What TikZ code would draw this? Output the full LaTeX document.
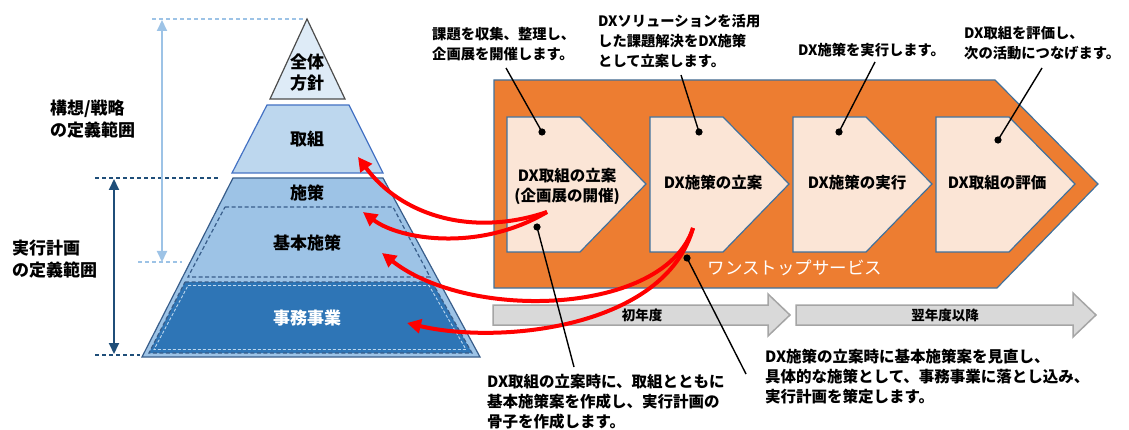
\documentclass[tikz,border=0pt]{standalone}
\usepackage{fontspec}
\setmainfont{Noto Sans CJK JP}
\usetikzlibrary{arrows.meta}
\definecolor{orng}{HTML}{ED7D31}
\definecolor{edgeblue}{HTML}{41719C}
\definecolor{chevfill}{HTML}{FBE5D6}
\definecolor{toptri}{HTML}{DEEBF7}
\definecolor{torilayer}{HTML}{BDD7EE}
\definecolor{torilayeredge}{HTML}{4472C4}
\definecolor{lowlayer}{HTML}{9DC3E6}
\definecolor{lowedge}{HTML}{385D8A}
\definecolor{darklayer}{HTML}{2E75B6}
\definecolor{lightarr}{HTML}{9DC3E6}
\definecolor{darkarr}{HTML}{1F4E79}
\definecolor{grayfill}{HTML}{D9D9D9}
\definecolor{grayedge}{HTML}{A5A5A5}
\begin{document}
\begin{tikzpicture}[x=1pt,y=-1pt,
  chev/.style={fill=chevfill,draw=edgeblue,line width=1.2pt,line join=miter},
  graybar/.style={fill=grayfill,draw=grayedge,line width=1.5pt},
  callout/.style={font=\fontsize{14.3}{19.8}\selectfont\bfseries,align=left,inner sep=0pt,anchor=north west},
  note/.style={font=\fontsize{15.5}{19.8}\selectfont\bfseries,align=left,inner sep=0pt,anchor=north west},
  chevlabel/.style={font=\fontsize{15.5}{20}\selectfont\bfseries,align=center,inner sep=0pt},
  layerlabel/.style={font=\fontsize{17}{21}\selectfont\bfseries,align=center,inner sep=0pt},
  sidelabel/.style={font=\fontsize{17}{22}\selectfont\bfseries,align=left,inner sep=0pt,anchor=west},
  barlabel/.style={font=\fontsize{13.5}{16}\selectfont\bfseries,inner sep=0pt},
  leader/.style={draw=black,line width=1.4pt},
  dotmark/.style={fill=black},
  redarrow/.style={draw=red,line width=4pt,-{Triangle[length=14pt,width=14pt]}},
  guide/.style={dashed,dash pattern=on 4pt off 3pt,line width=1.6pt}
]
\useasboundingbox (0,0) rectangle (1129,430);

% ---------------- pyramid ----------------
\draw[fill=toptri,draw=black!70,line width=1.2pt,line join=miter] (307,19) -- (345,99) -- (270,99) -- cycle;
\draw[fill=torilayer,draw=torilayeredge,line width=1.2pt] (267,105) -- (349,105) -- (383,173) -- (232,173) -- cycle;
\draw[fill=lowlayer,draw=lowedge,line width=1.2pt] (233,178) -- (383,178) -- (480,357) -- (142,357) -- cycle;
% inner dashed 基本施策
\draw[draw=lowedge,dashed,dash pattern=on 4pt off 2.5pt,line width=1.2pt] (225,207) -- (393,207) -- (430,277) -- (188,277) -- cycle;
% dark 事務事業
\draw[fill=darklayer,draw=lowedge,dashed,dash pattern=on 4pt off 2.5pt,line width=1.2pt] (185,282) -- (432,282) -- (472,353) -- (149,353) -- cycle;
\draw[draw=torilayer,dashed,dash pattern=on 3pt off 2pt,line width=0.9pt] (188,285.5) -- (429,285.5) -- (466,349.5) -- (154,349.5) -- cycle;

\node[layerlabel] (zentai) at (307,73) {全体\\方針};
\node[layerlabel] (torikumi) at (307,139) {取組};
\node[layerlabel] (shisaku) at (307,193) {施策};
\node[layerlabel] (kihon) at (307,243) {基本施策};
\node[layerlabel,text=white] (jimu) at (307,318) {事務事業};

% ---------------- range guides ----------------
\coordinate (lgtop) at (162,20);
\coordinate (lgbot) at (162,262);
\coordinate (dgtop) at (114,179);
\coordinate (dgbot) at (114,354);
\coordinate (lgl1a) at (152,19);  \coordinate (lgl1b) at (305,19);
\coordinate (lgl2a) at (138,262); \coordinate (lgl2b) at (182,262);
\coordinate (dgl1a) at (95,178);  \coordinate (dgl1b) at (220,178);
\coordinate (dgl2a) at (95,355);  \coordinate (dgl2b) at (140,355);
\draw[guide,draw=lightarr] (lgl1a) -- (lgl1b);
\draw[guide,draw=lightarr] (lgl2a) -- (lgl2b);
\draw[guide,draw=darkarr] (dgl1a) -- (dgl1b);
\draw[guide,draw=darkarr] (dgl2a) -- (dgl2b);
\draw[draw=lightarr,line width=2pt,{Triangle[length=11pt,width=10pt]}-{Triangle[length=11pt,width=10pt]}] (lgtop) -- (lgbot);
\draw[draw=darkarr,line width=2pt,{Triangle[length=11pt,width=10pt]}-{Triangle[length=11pt,width=10pt]}] (dgtop) -- (dgbot);

\node[sidelabel] (kousou) at (50,119) {構想/戦略\\の定義範囲};
\node[sidelabel] (jikkou) at (12,259) {実行計画\\の定義範囲};

% ---------------- orange chevron ----------------
\draw[fill=orng,draw=edgeblue,line width=1.2pt,line join=miter] (494,80) -- (995,80) -- (1098,184) -- (997,288) -- (494,288) -- cycle;
\foreach \x in {507,650,793,936}{
  \draw[chev] (\x,117) -- ++(73,0) -- ++(66,67) -- ++(-66,68) -- ++(-73,0) -- cycle;
}
\node[chevlabel] (c1) at (567,186) {DX取組の立案\\(企画展の開催)};
\node[chevlabel] (c2) at (713,183) {DX施策の立案};
\node[chevlabel] (c3) at (857,183) {DX施策の実行};
\node[chevlabel] (c4) at (997,183) {DX取組の評価};
\node[font=\fontsize{17.5}{20}\selectfont,text=white,inner sep=0pt] (onestop) at (795,268) {ワンストップサービス};

% ---------------- gray year bars ----------------
\draw[graybar] (493,305) -- (768,305) -- (768,294) -- (790,315) -- (768,336) -- (768,325) -- (493,325) -- cycle;
\draw[graybar] (796,305) -- (1073,305) -- (1073,293) -- (1096,315) -- (1073,337) -- (1073,325) -- (796,325) -- cycle;
\node[barlabel] (y1) at (642,315) {初年度};
\node[barlabel] (y2) at (945,315) {翌年度以降};

% ---------------- red arrows ----------------
\coordinate (r1s) at (547,212);
\coordinate (r2s) at (693,228);
\coordinate (t1) at (358,157);
\coordinate (t2) at (363,212);
\coordinate (t3) at (382,253);
\coordinate (t4) at (407,323);
\draw[redarrow] (r1s) .. controls (470,238) and (400,214) .. (t1);
\draw[redarrow] (r1s) .. controls (480,252) and (400,240) .. (t2);
\draw[redarrow] (r2s) .. controls (665,315) and (470,322) .. (t3);
\draw[redarrow] (r2s) .. controls (665,328) and (500,345) .. (t4);

% ---------------- callouts ----------------
\node[callout] (n1) at (432,27) {課題を収集、整理し、\\企画展を開催します。};
\node[callout] (n2) at (598,14) {DXソリューションを活用\\した課題解決をDX施策\\として立案します。};
\node[callout] (n3) at (798,43) {DX施策を実行します。};
\node[callout] (n4) at (964,26) {DX取組を評価し、\\次の活動につなげます。};
\node[note] (n5) at (487,374) {DX取組の立案時に、取組とともに\\基本施策案を作成し、実行計画の\\骨子を作成します。};
\node[note] (n6) at (765,349) {DX施策の立案時に基本施策案を見直し、\\具体的な施策として、事務事業に落とし込み、\\実行計画を策定します。};

\coordinate (d1) at (542,132);
\coordinate (d2) at (699,132);
\coordinate (d3) at (839,132);
\coordinate (d4) at (998,140);
\coordinate (d5) at (537,227);
\coordinate (d6) at (687,258);
\coordinate (e1) at (506,68);
\coordinate (e2) at (681,75);
\coordinate (e3) at (875,62);
\coordinate (e4) at (1042,68);
\coordinate (e5) at (574,367);
\coordinate (e6) at (746,374);
\draw[leader] (e1) -- (d1);
\draw[leader] (e2) -- (d2);
\draw[leader] (e3) -- (d3);
\draw[leader] (e4) -- (d4);
\draw[leader] (d5) -- (e5);
\draw[leader] (d6) -- (e6);
\foreach \d in {d1,d2,d3,d4,d5,d6}{ \fill[dotmark] (\d) circle (3.6pt); }
\end{tikzpicture}
\end{document}
